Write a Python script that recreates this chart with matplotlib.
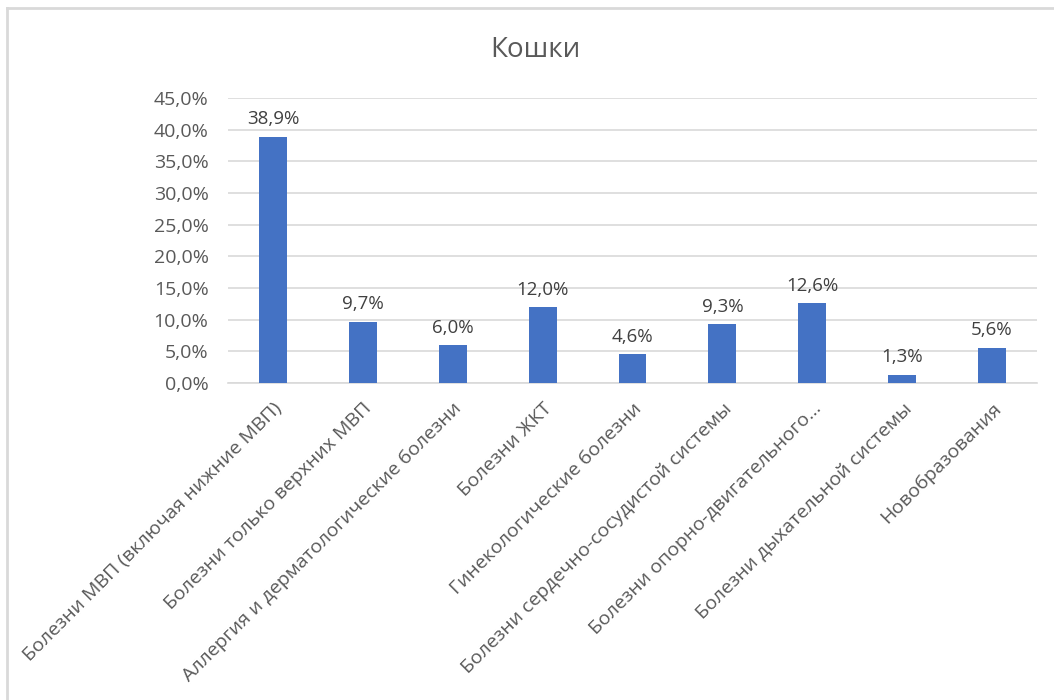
import matplotlib
matplotlib.use("Agg")
import matplotlib.pyplot as plt
from matplotlib.lines import Line2D
from matplotlib.ticker import FuncFormatter

plt.rcParams['font.family'] = ['Open Sans', 'DejaVu Sans']

# data
title = "Кошки"
categories = [
    "Болезни МВП (включая нижние МВП)",
    "Болезни только верхних МВП",
    "Аллергия и дерматологические болезни",
    "Болезни ЖКТ",
    "Гинекологические болезни",
    "Болезни сердечно-сосудистой системы",
    "Болезни опорно-двигательного…",
    "Болезни дыхательной системы",
    "Новобразования",
]
values = [38.9, 9.7, 6.0, 12.0, 4.6, 9.3, 12.6, 1.3, 5.6]
y_ticks = [0, 5, 10, 15, 20, 25, 30, 35, 40, 45]

bar_color = "#4472C4"
grid_color = "#D9D9D9"
text_color = "#595959"

fig = plt.figure(figsize=(10.54, 7.0), dpi=100)
ax = fig.add_axes([228 / 1054, 1 - 383 / 700, (1037 - 228) / 1054, (383 - 98) / 700])

x = list(range(len(categories)))
ax.bar(x, values, width=0.31, color=bar_color, zorder=3)

for xi, v in zip(x, values):
    ax.annotate(f"{v:.1f}%".replace(".", ","), (xi, v), xytext=(0, 6),
                textcoords="offset points", ha="center", va="bottom",
                fontsize=13.5, color="#404040")

ax.set_xlim(-0.5, len(categories) - 0.5)
ax.set_ylim(0, 45)
ax.set_yticks(y_ticks)
ax.yaxis.set_major_formatter(FuncFormatter(lambda v, p: f"{v:.1f}%".replace(".", ",")))
ax.grid(axis="y", color=grid_color, linewidth=1.2, zorder=0)
ax.set_xticks(x)
ax.set_xticklabels(categories, rotation=45, ha="right", rotation_mode="anchor")

for s in ["top", "right", "left"]:
    ax.spines[s].set_visible(False)
ax.spines["bottom"].set_color(grid_color)
ax.spines["bottom"].set_linewidth(1.2)

ax.tick_params(axis="y", length=0, pad=14, labelsize=14, labelcolor=text_color)
ax.tick_params(axis="x", length=0, pad=12, labelsize=14, labelcolor=text_color)

fig.text(535 / 1054, 1 - 50 / 700, title, ha="center", va="center",
         fontsize=20, color=text_color)

# chart area frame
fig.add_artist(Line2D([7 / 1054, 1], [1 - 8 / 700, 1 - 8 / 700], color=grid_color, linewidth=2))
fig.add_artist(Line2D([7 / 1054, 7 / 1054], [0, 1 - 8 / 700], color=grid_color, linewidth=2))

fig.savefig("out.png", dpi=100)
